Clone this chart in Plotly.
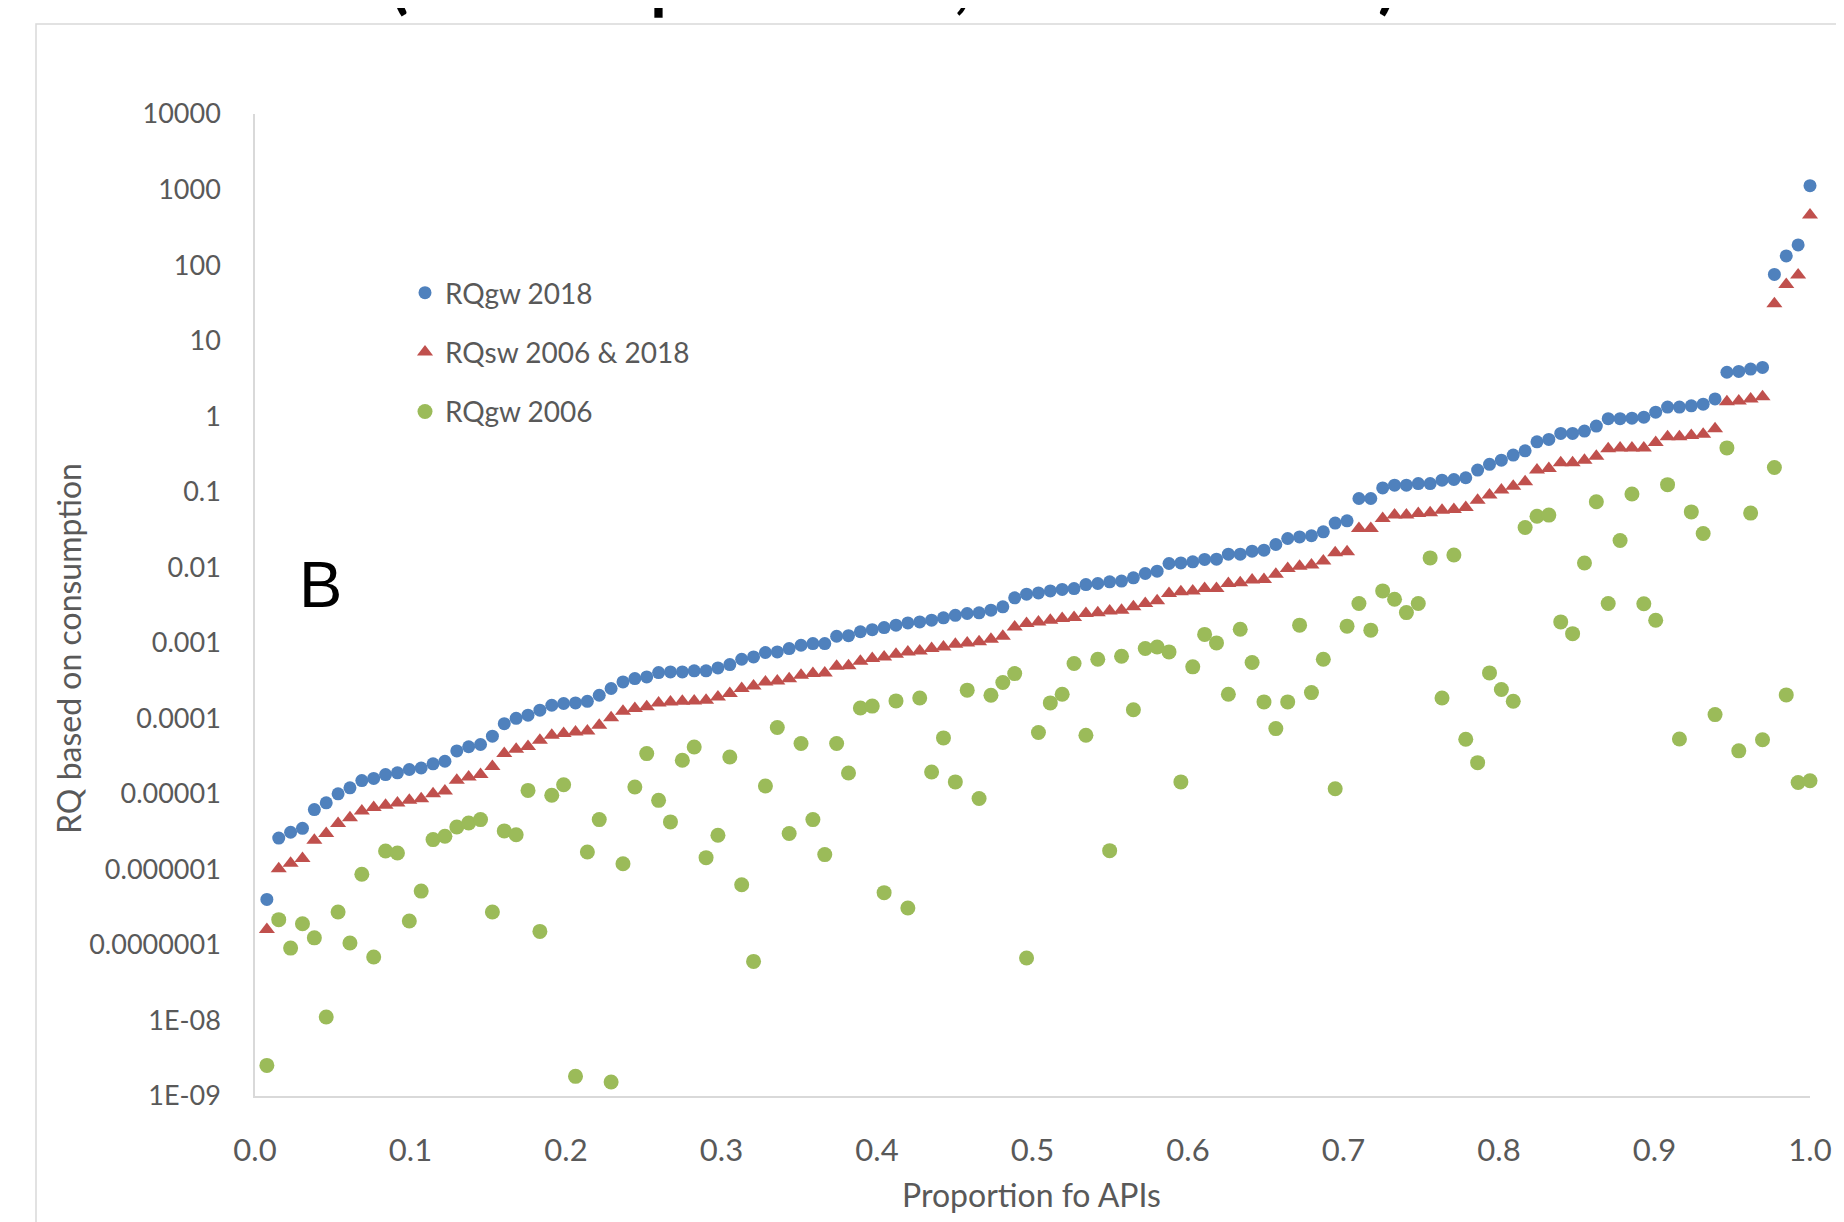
import plotly.graph_objects as go

# ---- data ----
rq_gw_2018 = [4.0e-7, 2.6e-6, 3.1e-6, 3.5e-6, 6.2e-6, 7.6e-6, 1.0e-5, 1.2e-5, 1.5e-5, 1.6e-5,
              1.8e-5, 1.9e-5, 2.1e-5, 2.2e-5, 2.5e-5, 2.7e-5, 3.7e-5, 4.2e-5, 4.5e-5, 5.8e-5,
              8.5e-5, 1.0e-4, 1.1e-4, 1.28e-4, 1.49e-4, 1.57e-4, 1.6e-4, 1.68e-4, 2.02e-4, 2.48e-4,
              3.03e-4, 3.36e-4, 3.53e-4, 4.03e-4, 4.11e-4, 4.11e-4, 4.25e-4, 4.25e-4, 4.65e-4, 5.15e-4,
              6.05e-4, 6.5e-4, 7.43e-4, 7.57e-4, 8.39e-4, 9.27e-4, 9.75e-4, 9.75e-4, 1.22e-3, 1.24e-3,
              1.40e-3, 1.49e-3, 1.59e-3, 1.71e-3, 1.83e-3, 1.89e-3, 1.99e-3, 2.14e-3, 2.31e-3, 2.44e-3,
              2.49e-3, 2.70e-3, 2.99e-3, 3.94e-3, 4.40e-3, 4.57e-3, 4.86e-3, 5.09e-3, 5.22e-3, 5.90e-3,
              6.09e-3, 6.41e-3, 6.55e-3, 7.24e-3, 8.26e-3, 8.88e-3, 1.12e-2, 1.14e-2, 1.18e-2, 1.27e-2,
              1.28e-2, 1.49e-2, 1.49e-2, 1.63e-2, 1.68e-2, 2.0e-2, 2.40e-2, 2.52e-2, 2.61e-2, 2.94e-2,
              3.84e-2, 4.12e-2, 8.12e-2, 8.12e-2, 0.112, 0.122, 0.122, 0.128, 0.128, 0.142,
              0.145, 0.153, 0.193, 0.230, 0.261, 0.305, 0.348, 0.457, 0.492, 0.590,
              0.590, 0.634, 0.740, 0.925, 0.925, 0.94, 0.97, 1.13, 1.32, 1.32,
              1.37, 1.44, 1.69, 3.81, 3.91, 4.2, 4.42, 75.3, 132, 185,
              1125]

rq_sw_2006_2018 = [1.6e-7, 1.02e-6, 1.21e-6, 1.39e-6, 2.43e-6, 2.98e-6, 4.04e-6, 4.84e-6, 5.93e-6, 6.58e-6,
                   7.06e-6, 7.59e-6, 8.2e-6, 8.63e-6, 1.0e-5, 1.09e-5, 1.51e-5, 1.67e-5, 1.81e-5, 2.31e-5,
                   3.41e-5, 3.88e-5, 4.24e-5, 5.12e-5, 5.97e-5, 6.28e-5, 6.6e-5, 6.81e-5, 8.09e-5, 1.02e-4,
                   1.24e-4, 1.35e-4, 1.42e-4, 1.60e-4, 1.65e-4, 1.68e-4, 1.70e-4, 1.74e-4, 1.92e-4, 2.13e-4,
                   2.48e-4, 2.68e-4, 3.03e-4, 3.13e-4, 3.33e-4, 3.71e-4, 3.91e-4, 3.99e-4, 4.9e-4, 4.95e-4,
                   5.69e-4, 6.18e-4, 6.50e-4, 7.06e-4, 7.57e-4, 7.81e-4, 8.39e-4, 8.81e-4, 9.57e-4, 9.96e-4,
                   1.03e-3, 1.11e-3, 1.22e-3, 1.62e-3, 1.80e-3, 1.89e-3, 1.99e-3, 2.09e-3, 2.16e-3, 2.44e-3,
                   2.49e-3, 2.64e-3, 2.70e-3, 2.99e-3, 3.31e-3, 3.59e-3, 4.5e-3, 4.72e-3, 4.86e-3, 5.22e-3,
                   5.22e-3, 6.09e-3, 6.21e-3, 6.75e-3, 6.89e-3, 8.09e-3, 9.61e-3, 1.03e-2, 1.07e-2, 1.21e-2,
                   1.55e-2, 1.60e-2, 3.25e-2, 3.25e-2, 4.42e-2, 4.9e-2, 4.9e-2, 5.15e-2, 5.26e-2, 5.69e-2,
                   5.82e-2, 6.18e-2, 7.73e-2, 9.02e-2, 0.105, 0.118, 0.135, 0.193, 0.203, 0.242,
                   0.242, 0.261, 0.295, 0.371, 0.38, 0.38, 0.38, 0.448, 0.533, 0.533,
                   0.553, 0.574, 0.681, 1.55, 1.59, 1.69, 1.81, 30.8, 55.3, 73.8,
                   459]

rq_gw_2006 = [2.54e-9, 2.16e-7, 9.08e-8, 1.91e-7, 1.24e-7, 1.11e-8, 2.73e-7, 1.06e-7, 8.61e-7, 6.92e-8,
              1.75e-6, 1.65e-6, 2.07e-7, 5.16e-7, 2.48e-6, 2.74e-6, 3.64e-6, 4.12e-6, 4.56e-6, 2.73e-7,
              3.23e-6, 2.88e-6, 1.11e-5, 1.51e-7, 9.58e-6, 1.32e-5, 1.82e-9, 1.70e-6, 4.56e-6, 1.53e-9,
              1.19e-6, 1.23e-5, 3.41e-5, 8.2e-6, 4.25e-6, 2.78e-5, 4.17e-5, 1.43e-6, 2.83e-6, 3.08e-5,
              6.27e-7, 6.05e-8, 1.27e-5, 7.54e-5, 2.98e-6, 4.65e-5, 4.56e-6, 1.57e-6, 4.65e-5, 1.89e-5,
              1.37e-4, 1.45e-4, 4.92e-7, 1.70e-4, 3.08e-7, 1.86e-4, 1.95e-5, 5.5e-5, 1.44e-5, 2.36e-4,
              8.67e-6, 2.02e-4, 2.98e-4, 3.91e-4, 6.7e-8, 6.49e-5, 1.60e-4, 2.08e-4, 5.32e-4, 5.97e-5,
              6.05e-4, 1.77e-6, 6.64e-4, 1.30e-4, 8.39e-4, 8.81e-4, 7.57e-4, 1.44e-5, 4.8e-4, 1.29e-3,
              9.96e-4, 2.08e-4, 1.51e-3, 5.47e-4, 1.65e-4, 7.31e-5, 1.65e-4, 1.71e-3, 2.19e-4, 6.05e-4,
              1.17e-5, 1.66e-3, 3.31e-3, 1.47e-3, 4.86e-3, 3.77e-3, 2.51e-3, 3.31e-3, 1.33e-2, 1.86e-4,
              1.45e-2, 5.28e-5, 2.59e-5, 3.99e-4, 2.41e-4, 1.68e-4, 3.36e-2, 4.74e-2, 4.9e-2, 1.89e-3,
              1.32e-3, 1.14e-2, 7.35e-2, 3.31e-3, 2.26e-2, 9.31e-2, 3.28e-3, 1.99e-3, 0.124, 5.32e-5,
              5.4e-2, 2.79e-2, 1.12e-4, 0.38, 3.71e-5, 5.21e-2, 5.19e-5, 0.209, 2.04e-4, 1.41e-5,
              1.49e-5]

# proportion of APIs (rank / number of APIs)
n_api = len(rq_gw_2018)
proportion = [(k + 1) / n_api for k in range(n_api)]

x_tick_vals = [0.0, 0.1, 0.2, 0.3, 0.4, 0.5, 0.6, 0.7, 0.8, 0.9, 1.0]
x_tick_text = ["0.0", "0.1", "0.2", "0.3", "0.4", "0.5", "0.6", "0.7", "0.8", "0.9", "1.0"]
y_tick_vals = [1e4, 1e3, 1e2, 1e1, 1, 1e-1, 1e-2, 1e-3, 1e-4, 1e-5, 1e-6, 1e-7, 1e-8, 1e-9]
y_tick_text = ["10000", "1000", "100", "10", "1", "0.1", "0.01", "0.001", "0.0001",
               "0.00001", "0.000001", "0.0000001", "1E-08", "1E-09"]

# ---- figure ----
# the page body has an 8 px default margin, so the figure is 8 px smaller
# and all page positions below are shifted by OFF
OFF = 8
W, H = 1844 - OFF, 1222 - OFF
ML, MR, MT, MB = 255 - OFF, 34, 114 - OFF, 126
PW, PH = W - ML - MR, H - MT - MB


def px(xp):
    return (xp - OFF - ML) / PW


def py(yp):
    return (H - (yp - OFF) - MB) / PH


GRAY = "#595959"
FONT = "Lato"

fig = go.Figure()
fig.add_trace(go.Scatter(x=proportion, y=rq_gw_2018, mode="markers", name="RQgw 2018",
                         legendgroup="g1", cliponaxis=False,
                         marker=dict(symbol="circle", size=13, color="#4F81BD")))
fig.add_trace(go.Scatter(x=proportion, y=rq_sw_2006_2018, mode="markers", name="RQsw 2006 & 2018",
                         legendgroup="g2", cliponaxis=False,
                         marker=dict(symbol="triangle-up", size=14, color="#C0504D")))
fig.add_trace(go.Scatter(x=proportion, y=rq_gw_2006, mode="markers", name="RQgw 2006",
                         legendgroup="g3", cliponaxis=False,
                         marker=dict(symbol="circle", size=15, color="#9BBB59")))

fig.update_layout(
    width=W, height=H,
    margin=dict(l=ML, r=MR, t=MT, b=MB, pad=0),
    paper_bgcolor="white", plot_bgcolor="white",
    font=dict(family=FONT, color=GRAY),
    showlegend=True,
    legend=dict(x=px(405), xanchor="left", y=py(268), yanchor="top",
                font=dict(family=FONT, size=28, color=GRAY),
                bgcolor="rgba(0,0,0,0)", tracegroupgap=20, traceorder="grouped"),
    xaxis=dict(range=[0, 1], tickvals=x_tick_vals, ticktext=x_tick_text,
               showgrid=False, zeroline=False, showline=True, linecolor="#d9d9d9", linewidth=1.5,
               ticks="outside", ticklen=26, tickcolor="rgba(0,0,0,0)",
               tickfont=dict(family=FONT, size=31, color=GRAY), automargin=False),
    yaxis=dict(type="log", range=[-9, 4], tickvals=y_tick_vals, ticktext=y_tick_text,
               showgrid=False, zeroline=False, showline=True, linecolor="#d9d9d9", linewidth=1.5,
               ticks="outside", ticklen=27, tickcolor="rgba(0,0,0,0)",
               tickfont=dict(family=FONT, size=27, color=GRAY), automargin=False),
)

# outer chart border (continues past the right and bottom edges)
fig.add_shape(type="rect", xref="paper", yref="paper",
              x0=px(36), x1=px(1900), y0=py(1300), y1=py(24),
              line=dict(color="#d9d9d9", width=1.5), fillcolor="rgba(0,0,0,0)", layer="below")

annotations = [
    dict(text="RQ based on consumption", x=px(68), y=py(649), xref="paper", yref="paper",
         textangle=-90, showarrow=False, xanchor="center", yanchor="middle",
         font=dict(family=FONT, size=32, color=GRAY)),
    dict(text="Proportion fo APIs", x=px(1031), y=py(1194), xref="paper", yref="paper",
         showarrow=False, xanchor="center", yanchor="middle",
         font=dict(family=FONT, size=32, color=GRAY)),
    dict(text="B", x=px(320), y=py(584), xref="paper", yref="paper",
         showarrow=False, xanchor="center", yanchor="middle",
         font=dict(family="Liberation Sans", size=65, color="black")),
    dict(text="<b>(Consumption data, 2006 & 2018)</b>", x=px(388), y=py(22), xref="paper", yref="paper",
         showarrow=False, xanchor="left", yanchor="bottom",
         font=dict(family=FONT, size=67, color="black")),
]
fig.update_layout(annotations=annotations)

fig.write_html("out.html", config={"displayModeBar": False})
